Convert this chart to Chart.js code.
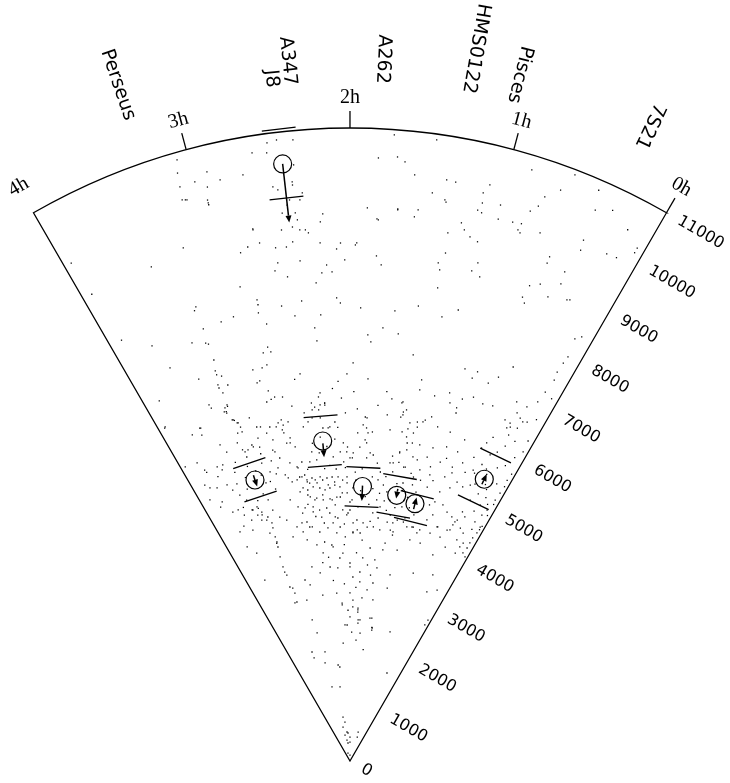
<!DOCTYPE html>
<html>
<head>
<meta charset="utf-8">
<script src="https://cdn.jsdelivr.net/npm/chart.js@4.4.1/dist/chart.umd.min.js"></script>
<style>
  html, body { margin: 0; padding: 0; background: #fff; }
  canvas { display: block; }
</style>
</head>
<body>
<canvas id="wedge-chart" width="730" height="783"></canvas>
<script>
// axis ticks: right ascension (hours) round the arc, cz (km/s) along the 0h edge
var raTicks = [0, 1, 2, 3, 4];
var raTickLabels = ['0h', '1h', '2h', '3h', '4h'];
var czTicks = [0, 1000, 2000, 3000, 4000, 5000, 6000, 7000, 8000, 9000, 10000, 11000];
var czMax = 11000;

// names written outside the wedge
var labelNames = ['Perseus', 'A347\nJ8', 'A262', 'HMS0122', 'Pisces', '7S21'];
var labelRA = [3.263, 2.389, 1.82, 1.332, 1.073, 0.315];

// clusters: position, peculiar velocity arrow, upper / lower bars
var clusterRA = [2.429, 3.245, 2.325, 1.826, 1.335, 1.055, 0.301];
var clusterCz = [10441, 5155, 5581, 4775, 4688, 4612, 5424];
var arrowFrom = [10441, 5241, 5540, 4790, 4800, 4514, 5327];
var arrowTo = [9416, 5035, 5297, 4523, 4631, 4725, 5523];
var barHigh = [11050, 5465, 6013, 5106, 5019, 4773, 5881];
var barLow = [9846, 4852, 5145, 4425, 4339, 4292, 4981];

// galaxies [RA h, cz km/s]
var galaxiesFar = [
  [3.07,10870],[3.09,10647],[3.10,10404],[3.11,10178],[3.09,10163],[3.00,10418],[2.91,10534],[2.93,10277],[2.95,10057],[2.95,9973],
  [2.84,10347],[2.69,10353],[2.61,10703],[2.51,10836],[2.45,10867],[2.35,10838],[2.52,10665],[2.36,10405],[2.38,10113],[2.38,10059],
  [2.32,9907],[2.41,9806],[2.34,9789],[2.51,10065],[2.48,10002],[2.47,9595],[2.37,9448],[2.36,9269],[2.69,9381],[2.49,9304],
  [2.41,9333],[2.32,9262],[2.30,9206],[2.21,9382],[2.19,9518],[2.43,9723],[2.38,9572],
  [1.73,10907],[1.47,10898],[1.82,10491],[1.70,10529],[1.65,10454],[1.58,10247],[1.37,10237],[1.31,10227],[1.09,10302],[0.86,10747],
  [0.60,10909],[0.73,10372],[0.65,10574],[0.43,10819],[0.40,10480],[0.30,10603],[0.16,10417],[1.45,9974],[1.36,9889],[1.12,10139],
  [1.10,9797],[0.88,9782],[0.83,9680],[1.67,9613],[1.55,9522],[1.80,9415],[1.19,9442],
  [1.88,9616],[1.53,9649],[1.13,9827],[0.99,10009],[0.75,10184],[1.81,9432],[1.22,9550],[0.98,9764],[0.82,9800],[1.30,9333],
  [0.68,9752],[1.95,9003],[1.14,9343],[1.08,9291],[1.29,8982],[1.80,8789],[1.76,8638],[1.33,8789],[1.04,8937],[1.07,8777],
  [1.00,8711],[0.56,9423],[0.56,9307],[0.39,9919],[0.21,9879],[0.14,9897],[0.05,10216],[1.30,8361],[0.62,8829],[0.55,8923],
  [0.41,9065],[0.42,9284],[0.46,8768],[0.32,8855],[0.61,8515],[1.35,9855],[1.67,9628],[1.11,9966],[0.79,10057],[0.81,9640],
  [0.38,9739],[0.05,10123],[1.31,8676],[0.30,8877],[0.64,8600],
  [3.20,9376],[2.95,10007],[3.08,10153],[2.69,9399],[2.42,9074],[2.75,9107],[2.66,9138],[2.55,9011],[2.47,9000],[2.22,9018],
  [2.07,9003],[1.96,8968],[2.81,9034],[2.55,8745],[2.38,8733],[2.10,8901],[2.04,8707],[2.18,8629],[2.22,8495],[2.14,8505],
  [2.58,8615],[2.49,8483],[2.27,8328],[3.95,9914],[3.46,9256],[2.87,8457],[3.93,9269],[2.76,8173],[2.76,8088],[3.25,8332],
  [3.27,8278],[3.90,8321],[2.40,8038],[2.11,8050],[0.13,8311],[0.09,8400],[1.10,8060]
];
var galaxiesMid = [
  [1.91,7875],[1.62,7860],[1.43,7995],[1.22,7880],[1.71,7548],[1.84,7410],[1.57,7468],[1.41,7141],[1.97,6917],[0.50,7411],
  [0.91,7100],[0.79,7117],[0.82,6986],[0.59,7152],[0.11,7978],[0.12,7845],[0.13,7658],[0.12,7511],[1.82,6646],[1.29,6739],
  [1.29,6562],[0.66,6993],[1.13,6513],[0.99,6628],[0.96,6460],[0.88,6411],[0.85,6586],[0.75,6677],[0.64,6621],[0.54,6651],
  [1.56,6333],[1.44,6307],[1.42,6135],[0.34,6882],[0.23,6879],[0.29,6709],[0.24,6653],[0.16,6646],[0.09,6759],[0.16,7043],
  [0.14,7253],[0.06,7204],[1.44,6041],[1.25,6006],[1.17,6068],[1.11,6146],[0.37,6510],[0.29,6436],[0.22,6474],[1.81,7292],
  [0.87,6322],
  [2.77,7948],[2.57,7995],[2.08,7961],[2.98,7980],[3.09,7952],[2.72,7731],[2.47,7793],[2.25,7768],[2.31,7550],[3.25,7930],
  [3.70,7991],[3.38,7767],[3.27,7683],[3.25,7650],[2.75,7335],[2.80,7250],[2.73,7240],[2.30,7322],[3.64,7513],[3.44,7139],
  [3.25,7359],[3.27,7173],[3.27,7100],[3.23,7051],[2.93,7002],[2.84,6999],[2.79,7032],[2.49,6782],[2.03,6726],[3.29,6926],
  [3.29,6870],[3.20,6870],[3.27,6766],[2.92,6766],[2.89,6790],[2.83,6587],[2.78,6459],[2.70,6433],[2.82,6430],[2.87,6404],
  [2.31,6417],[2.33,6350],[2.27,6237],[2.27,6200],[2.34,6124],[2.41,6136],[2.09,6309],[3.86,7083],[3.44,6655],[3.43,6590],
  [3.27,6546],[3.27,6520],[3.32,6449],[3.30,6440],[3.27,6271],[3.25,6250],[3.22,6188],[3.21,6106],[3.09,6215],[3.04,6026],
  [3.00,6010],[2.76,6046],[3.94,6621],[3.61,6340],[3.93,6636],[3.72,6296],[3.62,6347],[3.63,6220],[3.30,6508],[3.30,6415],
  [3.26,6266],[3.23,6194],[3.26,6024],[3.21,6018],[2.80,6006],[2.41,6257],[2.38,6182],[2.32,6209],[2.27,6236],[1.42,6083],
  [1.39,6180],[1.45,6287],[1.19,6027],[1.02,6003],[0.45,6018],[0.32,6399],[0.31,6499],[0.20,6614],[0.05,6158],[0.06,6364],
  [2.12,6600],[2.18,6480],[1.96,6420],[2.55,6700],[2.62,6250],[2.50,6100],[1.70,6200],[1.62,6450],[1.92,6120],[2.05,6050],
  [0.10,6000],[0.18,6250],[0.27,6300],[0.41,6150],[0.25,6100]
];
var galaxiesBand = [
  [1.83,5984],[1.34,5857],[2.83,5946],[2.75,5950],[2.47,5937],[2.42,5998],[2.33,5984],[2.31,5806],[2.25,5800],
  [3.25,5672],[3.21,5688],[3.14,5711],[3.06,5836],[2.95,5880],[2.90,5969],[2.77,5873],[2.76,5815],[2.75,5634],[2.91,5526],
  [2.66,5540],[2.76,5283],[2.68,5192],[2.61,5263],[2.92,5244],[3.03,5212],[2.85,5097],[2.82,5035],[2.78,4953],[2.67,5012],
  [2.58,4941],[2.55,4881],[2.47,4921],[2.40,4963],[2.31,4934],[2.24,4945],[2.16,4940],[2.10,4884],[2.65,4814],[2.59,4766],
  [2.51,4805],[2.42,4773],[2.35,4730],[2.28,4757],[2.21,4803],[2.57,4640],[2.48,4606],[2.39,4560],[2.29,4567],[2.19,4593],
  [2.11,4660],[2.55,4461],[2.46,4393],[2.35,4415],[2.22,4457],[2.11,4364],[2.04,4658],[1.97,4536],[2.03,4310],[1.79,5274],
  [1.71,5333],[1.65,5200],[1.70,4951],[1.62,4908],[1.60,5050],[1.97,5266],[1.96,5353],[1.88,5459],[1.82,5585],[1.81,5795],
  [1.81,5969],[1.79,5709],[1.54,4831],[1.48,4719],[1.61,4560],[1.55,4445],[1.65,4329],[1.56,4251],[1.41,4203],[1.32,4204],
  [1.45,5233],[1.39,5423],[1.29,5198],[1.34,5717],[1.26,5631],[1.24,5920],[3.60,5252],[3.56,5130],[3.50,5002],[3.44,4877],
  [3.75,5021],[3.41,4677],[3.37,4564],[3.34,4459],[3.16,4755],[3.14,4563],[3.07,4411],[2.98,4329],[2.86,4654],[2.77,4506],
  [2.72,4387],[2.68,4220],[2.65,4126],[2.85,4170],[2.77,4063],
  [3.30,5865],[3.27,5721],[3.25,5579],[3.49,5938],[3.45,5780],[3.15,5750],[3.07,5677],[2.90,5737],[2.71,5624],[3.81,5822],
  [3.77,5650],[3.76,5600],[3.62,5608],[3.58,5525],[3.95,5859],[3.85,5419],[3.81,5332],[3.73,5278],[3.68,4781],[3.60,4777],
  [3.42,4683],[3.34,4701],[3.33,4670],[3.30,4590],[3.31,4540],[3.24,4474],[3.27,4430],[3.21,4353],[3.22,4265],[3.29,4199],
  [3.23,4105],[3.23,4012],[3.24,3990],[3.24,3924],[3.26,3749],[3.71,4415],[3.52,4354],[3.71,4128],[3.61,3960],[2.49,3645],
  [2.30,3731],[2.19,3532],
  [2.47,5411],[2.42,5263],[2.51,5243],[2.21,5292],[2.12,5373],[2.08,5528],[2.53,5862],[2.70,5709],[2.93,5568],[2.87,5405],
  [2.67,5172],[2.60,5032],[2.00,5266],[2.04,4936],[1.75,5365],[1.74,5731],[1.80,5535],
  [2.69,5989],[2.23,5815],[2.17,5897],[2.03,5457],[2.04,5371],[1.91,5702],[1.85,5844],[1.59,6048],[1.54,5795],[1.40,5789],
  [1.33,5966],[1.31,5495],[1.16,5360],[1.16,5056],[1.28,4918],[1.23,4506],[1.15,4330],[0.99,4212],[1.29,4050],[1.51,4048],
  [1.72,4077],[1.95,4137],[1.83,3966],
  [0.87,5976],[0.69,5926],[0.30,5947],[1.27,5805],[1.32,5615],[1.17,5625],[1.01,5628],[0.86,5711],[0.72,5689],[1.39,5440],
  [1.22,5396],[1.05,5450],[0.88,5427],[0.72,5408],[0.62,5539],[0.47,5490],[1.49,5226],[1.31,5192],[1.10,5202],[0.96,5161],
  [0.77,5205],[0.60,5193],[0.51,5151],[0.43,5231],[0.66,5053],[0.77,4930],[0.95,4946],[1.15,4920],[0.79,4737],[0.67,4734],
  [0.58,4644],[0.49,4596],[0.40,4583],[0.32,4688],[0.16,4687],[0.06,4652],[0.76,4512],[0.82,4397],[0.63,4345],[0.44,4375],
  [0.88,4195],[1.01,4207],[1.16,4255],[0.24,4423],[0.35,4992],[0.20,4990],[0.09,4970],[0.05,4889],[0.06,5189],[0.05,5109],
  [0.05,5337],[0.04,5471],[0.05,5590],[0.04,5721],
  [2.00,4362],[2.27,4147],[2.16,4070],[1.95,3980],[1.79,4143],[1.62,4087],[1.34,4074],[1.26,4267],[1.09,4185],[0.91,4130],
  [0.71,4199],[0.64,4339],[0.54,4195],[0.48,4354],[0.43,4475],[0.42,4537],[0.28,4267],[0.19,4182],[0.17,4267],[0.08,4224],
  [0.08,4325],[0.08,4426],[0.06,4536],[0.05,4607],[0.04,4678],[0.10,4114],[0.21,4050],[0.04,4072],[1.79,3846],[1.64,3718],
  [1.39,3837],[1.29,3995],[1.41,3712],[1.16,3757],[0.99,3980],[0.81,3979],[0.54,3860],[0.40,4069],[2.32,3767],[2.13,3616],
  [2.71,4970],[2.64,5006],[2.58,4906],[2.51,4962],[2.45,4866],[2.37,4906],[2.30,4812],[2.21,4856],[2.14,4765],[2.04,4832],
  [1.96,4745],[2.70,4755],[2.60,4680],[2.51,4577],[2.39,4647],[2.26,4547],[2.14,4591],[2.00,4501],[2.67,4466],[2.56,4375],
  [2.44,4268],[2.31,4324],[2.19,4228],[2.05,4276],[1.89,4190],[2.76,4220],[2.61,4120],[2.50,4014],[2.36,4068],[2.22,3969],
  [2.08,3894],[1.95,3963],[2.95,4017],[2.73,3913],[2.58,3798],[2.44,3831],
  [1.52,4980],[1.44,5080],[1.36,4890],[1.27,4790],[1.18,4690],[1.08,4810],[1.42,4580],[1.33,4470],[1.22,4620],[1.12,4520],
  [1.03,4420],[0.93,4560],[0.85,4660],[1.47,5350],[1.38,5260],[1.20,5110],[1.06,5030],[0.98,5300],[0.90,5080],[0.82,5520],
  [0.70,5310],[0.55,5400],[0.40,5640],[0.30,5520],[0.22,5280],[0.15,5800],[0.12,5060],
  [2.35,5650],[2.28,5480],[2.18,5600],[2.45,5560],[2.38,5380],[2.14,5800],[2.26,5150],[2.18,5080],[2.33,5100],[2.55,5120],
  [2.06,5100],[3.10,5400],[3.20,5300],[3.35,5250],[3.45,5400],[3.38,5050],[3.12,5050],[3.02,4900],[3.20,4880],[3.52,4780],
  [3.30,4800],
  [0.12,4850],[0.18,5150],[0.26,5350],[0.33,5600],[0.14,5450],[0.22,5700],[0.36,5850],[0.48,5900],[0.52,5700],[0.44,5450],
  [0.38,5280],[0.29,5150],[0.24,4850],[0.15,4550],[0.31,4480],[0.38,4750],
  [1.92,4880],[1.85,4700],[1.78,4600],[1.88,4420],[1.72,4470],[1.84,5080],[1.93,5020],[2.08,5200],[1.68,4750],[1.58,4680],
  [1.50,4560],[1.45,4400],[1.38,4330],[1.68,4180],[1.88,4020],[2.09,4120],[2.23,4250],[2.41,4160],[2.53,4290],[2.62,4520],
  [3.55,5600],[3.66,5450],[3.48,5200],[3.40,5560],[3.28,5420],[3.15,5200],[3.06,5050],[2.96,5150],[2.98,5390],[3.08,5560],
  [3.55,4650],[3.48,4520],[3.62,4480],[3.80,4950],[3.88,5150]
];
var galaxiesNear = [
  [3.27,3567],[3.27,3474],[3.25,3413],[3.27,3199],[3.22,3166],[3.21,3072],[3.23,2913],[3.00,2896],[2.85,3137],[3.68,3475],
  [2.93,3241],[2.74,3436],[2.60,3309],[2.39,3389],[2.00,3372],[1.94,3198],[2.30,2928],[2.00,2920],[1.93,2677],[2.62,2923],
  [2.00,3441],[1.76,3535],[1.53,3520],[2.24,3361],[1.80,3289],[1.47,3387],[1.19,3307],[0.76,3446],[0.40,3540],[1.79,3116],
  [1.51,3119],[1.19,3075],[1.93,2798],[1.72,2841],[1.46,2827],[2.19,2749],[1.80,2628],[2.00,2503],[1.73,2457],[1.47,2509],
  [2.08,2364],[1.78,2402],[1.37,2343],[0.85,2348],[0.07,2800],[0.20,3335],[0.37,3228],[1.81,2105],[2.47,1681],[0.48,1659],
  [2.91,1324],[2.51,1298],[3.28,2908],[3.00,2538],[2.96,2297],[2.19,2715],[1.80,2662],[1.80,2592],[1.78,2455],[2.14,2366],
  [1.42,2510],[1.38,2355],[1.37,2305],[3.28,2006],[2.86,1944],[3.28,1896],[2.95,1758],[2.41,1643],[0.08,2699],
  [2.40,3560],[2.10,3760],[1.88,3620],[1.66,3420],[1.58,3250],[1.87,3020],[2.12,3080],[2.35,3150],[2.52,3480],[1.62,2990],
  [2.05,2620],[1.70,2230],[1.95,2240],[2.22,2050],[1.55,1950],
  [2.60,774],[2.49,683],[2.77,603],[2.39,507],[2.27,488],[2.72,460],[2.00,417],[2.54,368],[2.42,315],[2.00,330],
  [0.95,523],[0.87,434],[2.94,143],[2.00,104]
];

// view window in km/s so that both axes share one pixel scale
var viewX = [-6082, 6604];
var viewY = [-382, 13224];

function raAngle(ra) {
    return (2 - ra) * 15 * Math.PI / 180;
}

function toXY(ra, cz) {
    var t = raAngle(ra);
    return { x: cz * Math.sin(t), y: cz * Math.cos(t) };
}

function toPoints(list) {
    return list.map(function(g) { return toXY(g[0], g[1]); });
}

var allGalaxies = [].concat(galaxiesFar, galaxiesMid, galaxiesBand, galaxiesNear);
var clusterPoints = clusterRA.map(function(ra, i) { return toXY(ra, clusterCz[i]); });

var wedgePlugin = {
    id: 'wedge',
    afterDatasetsDraw: function(chart) {
        var ctx = chart.ctx;
        var sx = chart.scales.x, sy = chart.scales.y;
        function pix(ra, cz) {
            var p = toXY(ra, cz);
            return { x: sx.getPixelForValue(p.x), y: sy.getPixelForValue(p.y) };
        }
        var apex = pix(2, 0);
        var R = apex.y - pix(2, czMax).y;
        var first = raTicks[0], last = raTicks[raTicks.length - 1];

        ctx.save();
        ctx.strokeStyle = '#000';
        ctx.fillStyle = '#000';
        ctx.lineWidth = 1.3;

        // outline of the wedge
        var e0 = pix(first, czMax);
        ctx.beginPath();
        ctx.moveTo(apex.x, apex.y);
        ctx.lineTo(e0.x, e0.y);
        ctx.arc(apex.x, apex.y, R, raAngle(first) - Math.PI / 2, raAngle(last) - Math.PI / 2, true);
        ctx.closePath();
        ctx.stroke();

        // RA ticks and labels
        ctx.font = '20px "Liberation Serif"';
        ctx.textAlign = 'center';
        ctx.textBaseline = 'middle';
        raTicks.forEach(function(ra, i) {
            var t = raAngle(ra);
            var p = pix(ra, czMax);
            if (ra < last) {
                ctx.beginPath();
                ctx.moveTo(p.x, p.y);
                ctx.lineTo(p.x + 17 * Math.sin(t), p.y - 17 * Math.cos(t));
                ctx.stroke();
            }
            var q = pix(ra, 11520);
            ctx.save();
            ctx.translate(q.x, q.y);
            ctx.rotate(t);
            ctx.fillText(raTickLabels[i], 0, 0);
            ctx.restore();
        });

        // cz labels along the 0h edge
        var t0 = raAngle(first);
        ctx.font = '16px "DejaVu Sans"';
        ctx.textAlign = 'left';
        czTicks.forEach(function(v) {
            var p = pix(first, v);
            ctx.save();
            ctx.translate(p.x + 14 * Math.cos(t0), p.y + 14 * Math.sin(t0));
            ctx.rotate(t0);
            ctx.fillText(String(v), 0, 0);
            ctx.restore();
        });

        // cluster names, reading inwards
        ctx.font = '19px "DejaVu Sans"';
        ctx.textAlign = 'right';
        labelNames.forEach(function(name, i) {
            var t = raAngle(labelRA[i]);
            var p = pix(labelRA[i], 11782);
            var lines = name.split('\n');
            ctx.save();
            ctx.translate(p.x, p.y);
            ctx.rotate(t + Math.PI / 2);
            lines.forEach(function(line, k) {
                ctx.fillText(line, 0, (k - (lines.length - 1) / 2) * 18);
            });
            ctx.restore();
        });

        // arrows and bars of the clusters
        clusterRA.forEach(function(ra, i) {
            var t = raAngle(ra);
            var a = pix(ra, arrowFrom[i]);
            var b = pix(ra, arrowTo[i]);
            var dx = b.x - a.x, dy = b.y - a.y;
            var len = Math.sqrt(dx * dx + dy * dy);
            var ux = dx / len, uy = dy / len;
            var head = Math.min(7, len);
            ctx.lineWidth = 1.5;
            ctx.beginPath();
            ctx.moveTo(a.x, a.y);
            ctx.lineTo(b.x - ux * head, b.y - uy * head);
            ctx.stroke();
            ctx.beginPath();
            ctx.moveTo(b.x, b.y);
            ctx.lineTo(b.x - ux * head - uy * 3, b.y - uy * head + ux * 3);
            ctx.lineTo(b.x - ux * head + uy * 3, b.y - uy * head - ux * 3);
            ctx.closePath();
            ctx.fill();

            ctx.lineWidth = 1.3;
            [barHigh[i], barLow[i]].forEach(function(v) {
                var c = pix(ra, v);
                ctx.beginPath();
                ctx.moveTo(c.x - 17 * Math.cos(t), c.y - 17 * Math.sin(t));
                ctx.lineTo(c.x + 17 * Math.cos(t), c.y + 17 * Math.sin(t));
                ctx.stroke();
            });
        });
        ctx.restore();
    }
};

new Chart(document.getElementById('wedge-chart'), {
    type: 'scatter',
    data: {
        datasets: [{
            label: 'Galaxies',
            data: toPoints(allGalaxies),
            pointStyle: 'rect',
            pointRadius: 0.9,
            backgroundColor: '#000',
            borderWidth: 0
        }, {
            label: 'Clusters',
            data: clusterPoints,
            pointStyle: 'circle',
            pointRadius: 9,
            backgroundColor: 'rgba(0,0,0,0)',
            borderColor: '#000',
            borderWidth: 1.2
        }]
    },
    options: {
        responsive: false,
        animation: false,
        events: [],
        layout: { padding: 0, autoPadding: false },
        plugins: {
            legend: { display: false },
            tooltip: { enabled: false }
        },
        scales: {
            x: { type: 'linear', min: viewX[0], max: viewX[1], display: false },
            y: { type: 'linear', min: viewY[0], max: viewY[1], display: false }
        }
    },
    plugins: [wedgePlugin]
});
</script>
</body>
</html>
